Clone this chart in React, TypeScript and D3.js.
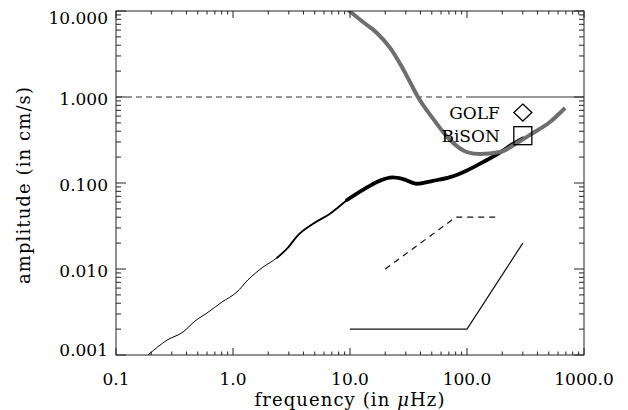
import React from 'react';
import * as d3 from 'd3';

// Black spectrum (frequency in µHz, amplitude in cm/s)
const blackFreq = [0.188, 0.273, 0.374, 0.473, 0.6, 0.805, 1.08, 1.34, 1.8, 2.38, 2.95, 3.52, 4.83, 6.75, 9.42, 12.9, 17.0, 23.3, 28.4, 37.4, 51.2, 71.6, 100, 137, 191, 247, 300];
const blackAmp = [0.001, 0.00149, 0.00185, 0.00248, 0.00308, 0.00413, 0.0054, 0.00745, 0.0105, 0.0135, 0.0177, 0.0240, 0.0335, 0.0440, 0.0634, 0.083, 0.103, 0.116, 0.111, 0.098, 0.106, 0.117, 0.140, 0.175, 0.226, 0.285, 0.33];

// Gray spectrum
const grayFreq = [9.6, 12.9, 17.0, 22.0, 27.8, 32.6, 38.1, 51.2, 71.6, 100, 129, 191, 267, 366, 512, 689];
const grayAmp = [10.3, 7.45, 5.55, 3.72, 2.23, 1.49, 1.0, 0.56, 0.316, 0.229, 0.217, 0.229, 0.292, 0.381, 0.512, 0.745];

// Reference slopes
const solidRefFreq = [10, 100, 300];
const solidRefAmp = [0.002, 0.002, 0.02];
const dashRefFreq = [20, 80, 180];
const dashRefAmp = [0.01, 0.04, 0.04];

// Unity line
const unityAmp = 1;
const unityBreakFreq = 100;

// Markers
const markerFreq = 300;
const golfAmp = 0.66;
const bisonAmp = 0.355;
const markerLabels = ['GOLF', 'BiSON'];

// Ticks
const xTickValues = [0.1, 1, 10, 100, 1000];
const xTickLabels = ['0.1', '1.0', '10.0', '100.0', '1000.0'];
const yTickValues = [0.001, 0.01, 0.1, 1, 10];
const yTickLabels = ['0.001', '0.010', '0.100', '1.000', '10.000'];

const W = 628, H = 410;
const L = 116, R = 584, T = 11, B = 355;
const FONT = 'DejaVu Serif';

export default function App() {
  const x = d3.scaleLog().domain([0.1, 1000]).range([L, R]);
  const y = d3.scaleLog().domain([0.001, 10]).range([B, T]);

  const line = d3.line<[number, number]>().x(d => x(d[0])).y(d => y(d[1]));
  const smooth = d3.line<[number, number]>().x(d => x(d[0])).y(d => y(d[1])).curve(d3.curveMonotoneX);
  const pts = (fs: number[], as: number[]) => fs.map((f, i) => [f, as[i]] as [number, number]);

  const black = pts(blackFreq, blackAmp);
  const seg = (lo: number, hi: number) => black.filter(d => d[0] >= lo && d[0] <= hi);
  const blackSegs = [
    { d: seg(2.38, 9.42), w: 1.8 },
    { d: seg(9.42, 1000), w: 3.8 },
  ];

  const xMinor: number[] = [];
  const yMinor: number[] = [];
  [0.1, 1, 10, 100].forEach(d => { for (let k = 2; k <= 9; k++) xMinor.push(d * k); });
  [0.001, 0.01, 0.1, 1].forEach(d => { for (let k = 2; k <= 9; k++) yMinor.push(d * k); });

  const xMaj = 7, xMin = 3.5, yMaj = 10, yMin = 5;
  const axisColor = '#222';

  const gy = y(golfAmp), by = y(bisonAmp), mx = x(markerFreq);

  return (
    <svg width={W} height={H} style={{ position: 'absolute', left: 0, top: 0, background: '#fff' }} fontFamily={FONT}>
      <defs>
        <clipPath id="plot"><rect x={L} y={T} width={R - L} height={B - T} /></clipPath>
      </defs>
      <rect x={0} y={0} width={W} height={H} fill="#fff" />

      <g clipPath="url(#plot)" fill="none">
        {/* unity line */}
        <line x1={x(0.1)} x2={x(unityBreakFreq)} y1={y(unityAmp)} y2={y(unityAmp)} stroke="#333" strokeWidth={1} strokeDasharray="6,4" />
        <line x1={x(unityBreakFreq)} x2={x(1000)} y1={y(unityAmp)} y2={y(unityAmp)} stroke="#333" strokeWidth={1} />
        {/* reference slopes */}
        <path d={line(pts(solidRefFreq, solidRefAmp)) || ''} stroke="#111" strokeWidth={1.2} />
        <path d={line(pts(dashRefFreq, dashRefAmp)) || ''} stroke="#111" strokeWidth={1.2} strokeDasharray="6,5" />
        {/* black spectrum */}
        <path d={smooth(black) || ''} stroke="#000" strokeWidth={1} strokeLinejoin="round" />
        {blackSegs.map((s, i) => (
          <path key={i} d={smooth(s.d) || ''} stroke="#000" strokeWidth={s.w} strokeLinejoin="round" strokeLinecap="round" />
        ))}
        {/* gray spectrum */}
        <path d={smooth(pts(grayFreq, grayAmp)) || ''} stroke="#6e6e6e" strokeWidth={4} strokeLinejoin="round" />
      </g>

      {/* markers */}
      <path d={`M${mx},${gy - 8.5}L${mx + 9},${gy}L${mx},${gy + 8.5}L${mx - 9},${gy}Z`} fill="none" stroke="#000" strokeWidth={1.3} />
      <rect x={mx - 9} y={by - 9} width={18} height={18} fill="none" stroke="#000" strokeWidth={1.3} />
      <text x={mx - 23} y={gy + 6.5} textAnchor="end" fontSize={17} fill="#000">{markerLabels[0]}</text>
      <text x={mx - 23} y={by + 6.5} textAnchor="end" fontSize={17} fill="#000">{markerLabels[1]}</text>

      {/* frame */}
      <rect x={L} y={T} width={R - L} height={B - T} fill="none" stroke={axisColor} strokeWidth={1} />

      {/* x ticks */}
      {xTickValues.map(v => (
        <g key={'xM' + v} stroke={axisColor}>
          <line x1={x(v)} x2={x(v)} y1={B} y2={B - xMaj} />
          <line x1={x(v)} x2={x(v)} y1={T} y2={T + xMaj} />
        </g>
      ))}
      {xMinor.map(v => (
        <g key={'xm' + v} stroke={axisColor}>
          <line x1={x(v)} x2={x(v)} y1={B} y2={B - xMin} />
          <line x1={x(v)} x2={x(v)} y1={T} y2={T + xMin} />
        </g>
      ))}
      {/* y ticks */}
      {yTickValues.map(v => (
        <g key={'yM' + v} stroke={axisColor}>
          <line x1={L} x2={L + yMaj} y1={y(v)} y2={y(v)} />
          <line x1={R} x2={R - yMaj} y1={y(v)} y2={y(v)} />
        </g>
      ))}
      {yMinor.map(v => (
        <g key={'ym' + v} stroke={axisColor}>
          <line x1={L} x2={L + yMin} y1={y(v)} y2={y(v)} />
          <line x1={R} x2={R - yMin} y1={y(v)} y2={y(v)} />
        </g>
      ))}

      {/* tick labels */}
      {xTickValues.map((v, i) => (
        <text key={'xl' + v} x={x(v)} y={385} textAnchor="middle" fontSize={17} fill="#000">{xTickLabels[i]}</text>
      ))}
      {yTickValues.map((v, i) => {
        const c = Math.max(T + 6.5, Math.min(B - 5.5, y(v) + 2));
        return <text key={'yl' + v} x={108} y={c + 6} textAnchor="end" fontSize={17} fill="#000">{yTickLabels[i]}</text>;
      })}

      {/* axis titles */}
      <text x={(L + R) / 2} y={406} textAnchor="middle" fontSize={18} letterSpacing={1.1} fill="#000">
        frequency (in <tspan fontStyle="italic">μ</tspan>Hz)
      </text>
      <text x={30} y={185} transform="rotate(-90,30,185)" textAnchor="middle" fontSize={18} letterSpacing={1.1} fill="#000">amplitude (in cm/s)</text>
    </svg>
  );
}
